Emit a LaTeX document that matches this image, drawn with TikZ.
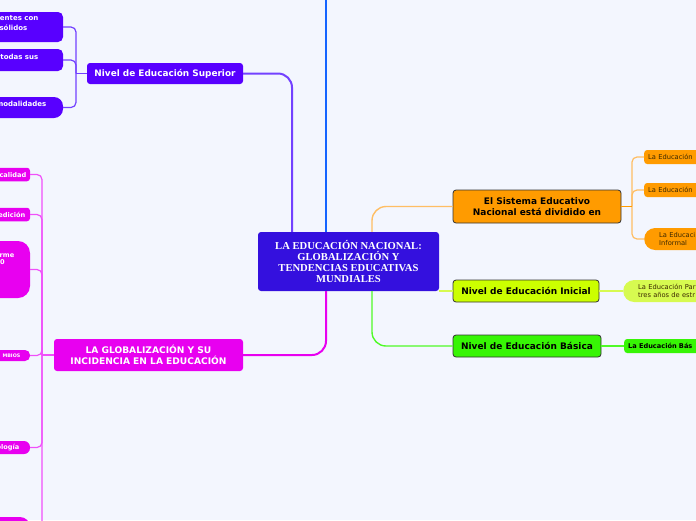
\documentclass[tikz,border=0pt]{standalone}
\usepackage{fontspec}
\setmainfont{Liberation Serif}
\newfontfamily\dvs{DejaVu Sans}
\definecolor{bg}{RGB}{243,246,254}
\definecolor{cen}{RGB}{52,16,222}
\definecolor{pur}{RGB}{88,0,255}
\definecolor{purl}{RGB}{115,65,255}
\definecolor{blu}{RGB}{20,100,255}
\definecolor{mag}{RGB}{232,0,240}
\definecolor{magl}{RGB}{240,80,250}
\definecolor{ora}{RGB}{255,155,0}
\definecolor{oral}{RGB}{255,190,100}
\definecolor{yel}{RGB}{204,255,0}
\definecolor{yell}{RGB}{215,250,80}
\definecolor{grn}{RGB}{55,245,5}
\definecolor{grnl}{RGB}{80,250,40}
\definecolor{dtx}{RGB}{60,40,0}
\begin{document}
\begin{tikzpicture}[x=1pt,y=-1pt,
  cnode/.style={fill=cen, rounded corners=3, text=white, align=center, inner sep=0,
    font=\bfseries\fontsize{10.6}{10.7}\selectfont},
  pnode/.style={fill=pur, rounded corners=3, text=white, inner sep=0,
    font=\dvs\bfseries\fontsize{8.9}{10}\selectfont},
  pchild/.style={fill=pur, rounded corners=5, inner sep=0},
  ptext/.style={anchor=east, inner sep=0, text=white, font=\dvs\bfseries\fontsize{7}{8}\selectfont},
  mnode/.style={fill=mag, rounded corners=3, text=white, align=center, inner sep=0,
    font=\dvs\bfseries\fontsize{9.1}{11}\selectfont},
  mchild/.style={fill=mag, rounded corners=3, inner sep=0},
  mtext/.style={anchor=east, inner sep=0, text=white, font=\dvs\bfseries\fontsize{6.6}{8}\selectfont},
  bignode/.style={draw=black!80, line width=0.8, rounded corners=3, inner sep=0, align=center,
    font=\dvs\bfseries\fontsize{9}{11}\selectfont},
  ochild/.style={fill=ora, rounded corners=3, anchor=west, align=left, text width=80pt,
    inner xsep=4, inner ysep=0, text=dtx, font=\dvs\fontsize{6.7}{8}\selectfont},
  mainline/.style={line width=2, rounded corners=14},
  subline/.style={line width=1.2, rounded corners=5}
]
\useasboundingbox (0,0) rectangle (696,520);
\fill[bg] (0,0) rectangle (696,520);
\clip (0,0) rectangle (696,520);

% central node
\node[cnode, minimum width=181, minimum height=59] (c) at (348.5,261.5)
  {LA EDUCACIÓN NACIONAL:\\GLOBALIZACIÓN Y\\TENDENCIAS EDUCATIVAS\\MUNDIALES};

% superior branch
\node[pnode, minimum width=156, minimum height=21] (sup) at (165,73.5) {Nivel de Educación Superior};
\node[pchild, minimum width=103, minimum height=30] (n1) at (11.5,27) {};
\node[pchild, minimum width=103, minimum height=22] (n2) at (11.5,60) {};
\node[pchild, rounded corners=9, minimum width=103, minimum height=21] (n3) at (11.5,107.5) {};
\node[ptext] (t1a) at (38.5,18.5) {entes con};
\node[ptext] (t1b) at (27.5,28) {sólidos};
\node[ptext] (t2) at (38.5,57) {todas sus};
\node[ptext] (t3) at (46.5,103.5) {modalidades};
\coordinate (sj) at (76,73.5);
\draw[purl, subline] (n1.east) -| (sj);
\draw[purl, subline] (n2.east) -| (sj);
\draw[purl, subline] (n3.east) -| (sj);
\draw[purl, subline] (sj) -- (sup.west);
\draw[purl, mainline] (sup.east) -| ([xshift=-56.5pt]c.north);

% blue line
\coordinate (btop) at (326,-10);
\draw[blu, line width=2.4] ([xshift=-22.5pt]c.north) -- (btop);

% globalization branch
\node[mnode, minimum width=189, minimum height=32] (glob) at (148.5,355)
  {LA GLOBALIZACIÓN Y SU\\INCIDENCIA EN LA EDUCACIÓN};
\node[mchild, minimum width=70, minimum height=13.5] (g1) at (-5,174.5) {};
\node[mchild, minimum width=70, minimum height=13.5] (g2) at (-5,214.5) {};
\node[mchild, rounded corners=12, minimum width=70, minimum height=57] (g3) at (-5,269.5) {};
\node[mchild, rounded corners=5, minimum width=70, minimum height=11] (g4) at (-5,355.5) {};
\node[mchild, rounded corners=6, minimum width=70, minimum height=13] (g5) at (-5,447.5) {};
\node[mchild, rounded corners=10, minimum width=70, minimum height=36] (g6) at (-5,535) {};
\node[mtext] (u1) at (26.5,175.5) {calidad};
\node[mtext] (u2) at (25.5,214.5) {edición};
\node[mtext] (u3a) at (14.5,255.5) {orme};
\node[mtext] (u3b) at (5,262.5) {0};
\node[mtext, font=\dvs\bfseries\fontsize{4.8}{6}\selectfont] (u4) at (20.5,356) {MBIOS};
\node[mtext] (u5) at (19.5,447.5) {ología};
\coordinate (gj) at (42,355);
\foreach \g in {g1,g2,g3,g4,g5,g6} \draw[magl, subline] (\g.east) -| (gj);
\draw[magl, subline] (gj) -- (glob.west);
\draw[mag, mainline] (glob.east) -| ([xshift=-22.5pt]c.south);

% sistema branch
\node[bignode, fill=ora, minimum width=168, minimum height=33] (sis) at (537,206.5)
  {El Sistema Educativo\\Nacional está dividido en};
\node[ochild, minimum height=14] (e1) at (644,157) {La Educación};
\node[ochild, minimum height=14] (e2) at (644,190) {La Educación};
\node[ochild, rounded corners=11, minimum height=22, inner xsep=15] (e3) at (644,239)
  {La Educaci\\Informal};
\coordinate (oj) at (632,206.5);
\draw[oral, subline] (e1.west) -| (oj);
\draw[oral, subline] (e2.west) -| (oj);
\draw[oral, subline] (e3.west) -| (oj);
\draw[ora, line width=1.4] (sis.east) -- (oj);
\draw[oral, line width=1.4, rounded corners=14] (sis.west) -| ([xshift=23.5pt]c.north);

% inicial branch
\node[bignode, fill=yel, minimum width=146, minimum height=22] (ini) at (526,291) {Nivel de Educación Inicial};
\node[ochild, fill=yell, rounded corners=11, minimum height=22, inner xsep=15] (ic) at (623,291)
  {La Educación Par\\tres años de estr};
\draw[yell, line width=1.2] (ini.west -| c.east) -- (ini.west);
\draw[yell, line width=1.2] (ini.east) -- (ic.west);

% basica branch
\node[bignode, fill=grn, minimum width=148, minimum height=22] (bas) at (527,346) {Nivel de Educación Básica};
\node[ochild, fill=grn, minimum height=14, text=black, font=\dvs\bfseries\fontsize{6.6}{8}\selectfont] (bc) at (624,346)
  {La Educación Bás};
\draw[grnl, line width=1.4, rounded corners=14] (bas.west) -| ([xshift=23.5pt]c.south);
\draw[grnl, line width=1.4] (bas.east) -- (bc.west);
\end{tikzpicture}
\end{document}
